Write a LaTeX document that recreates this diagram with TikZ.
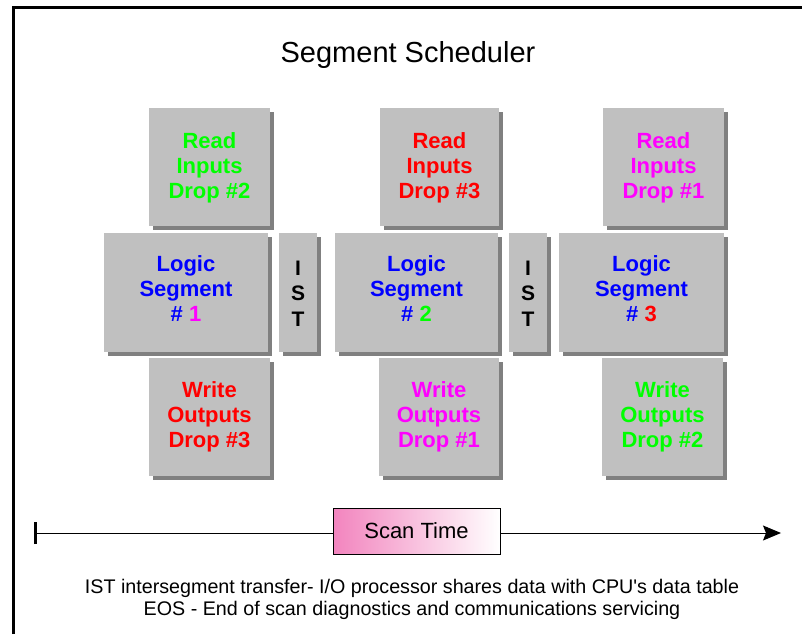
\documentclass[tikz,border=0pt]{standalone}
\usepackage{fontspec}
\setmainfont{Liberation Sans}[Ligatures=TeXOff]
\usetikzlibrary{shadows,arrows.meta}
\definecolor{boxgray}{RGB}{192,192,192}
\definecolor{shadowgray}{RGB}{128,128,128}
\definecolor{cgreen}{RGB}{0,255,0}
\definecolor{cred}{RGB}{255,0,0}
\definecolor{cmag}{RGB}{255,0,255}
\definecolor{cblue}{RGB}{0,0,255}
\definecolor{pinkl}{RGB}{242,132,190}
\tikzset{
  box/.style={fill=boxgray, draw=none, inner sep=0pt,
    drop shadow={shadow xshift=4pt, shadow yshift=-4pt, fill=shadowgray, opacity=1}},
  rbox/.style={box, minimum width=121pt, minimum height=118pt},
  lbox/.style={box, minimum width=164pt, minimum height=119pt},
  ibox/.style={box, minimum width=38pt, minimum height=119pt},
  lbl/.style={align=center, font=\bfseries\fontsize{22}{25}\selectfont},
  istlbl/.style={align=center, font=\bfseries\fontsize{21}{25.5}\selectfont},
}
\begin{document}
\begin{tikzpicture}[x=1pt,y=-1pt]
\useasboundingbox (0,0) rectangle (802,634);
% frame
\draw[line width=3pt] (13.5,634) -- (13.5,7.5) -- (802,7.5);
% title
\node[font=\fontsize{29}{34}\selectfont] (title) at (408,55) {Segment Scheduler};
% column 1
\node[rbox, label={[lbl, text=cgreen, yshift=-1pt]center:{Read\\Inputs\\Drop \#2}}] (r1) at (209.5,167) {};
\node[lbox, label={[lbl, text=cblue, yshift=4pt]center:{Logic\\Segment\\\# \textcolor{cmag}{1}}}] (l1) at (186,292.5) {};
\node[ibox, label={[istlbl, text=black, yshift=-1pt]center:{I\\S\\T}}] (i1) at (298,292.5) {};
\node[rbox, label={[lbl, text=cred, yshift=0pt]center:{Write\\Outputs\\Drop \#3}}] (w1) at (209.5,417) {};
% column 2
\node[rbox, minimum width=119pt, label={[lbl, text=cred, yshift=-1pt]center:{Read\\Inputs\\Drop \#3}}] (r2) at (439.5,167) {};
\node[lbox, minimum width=163pt, label={[lbl, text=cblue, yshift=4pt]center:{Logic\\Segment\\\# \textcolor{cgreen}{2}}}] (l2) at (416.5,292.5) {};
\node[ibox, label={[istlbl, text=black, yshift=-1pt]center:{I\\S\\T}}] (i2) at (528,292.5) {};
\node[rbox, minimum width=120pt, label={[lbl, text=cmag, yshift=0pt]center:{Write\\Outputs\\Drop \#1}}] (w2) at (439,417) {};
% column 3
\node[rbox, label={[lbl, text=cmag, yshift=-1pt]center:{Read\\Inputs\\Drop \#1}}] (r3) at (663.5,167) {};
\node[lbox, minimum width=165pt, label={[lbl, text=cblue, yshift=4pt]center:{Logic\\Segment\\\# \textcolor{cred}{3}}}] (l3) at (641.5,292.5) {};
\node[rbox, label={[lbl, text=cgreen, yshift=0pt]center:{Write\\Outputs\\Drop \#2}}] (w3) at (662.5,417) {};
% timeline
\coordinate (tstart) at (35,533);
\coordinate (tend) at (781,533);
\node[draw=black, line width=0.8pt, left color=pinkl, right color=white, minimum width=167pt, minimum height=46pt, inner sep=0pt, font=\fontsize{22}{26}\selectfont] (scan) at (416.5,531) {\raisebox{-2pt}{Scan Time}};
\draw[line width=3pt] ([yshift=-11pt]tstart) -- ([yshift=11pt]tstart);
\draw[line width=1pt] (tstart) -- (scan.west |- tstart);
\draw[line width=1pt, -{Stealth[length=18pt, width=15pt, inset=3pt]}] (scan.east |- tend) -- (tend);
% notes
\node[align=center, font=\fontsize{19.7}{22}\selectfont] (notes) at (412,599) {IST intersegment transfer- I/O processor shares data with CPU's data table\\EOS - End of scan diagnostics and communications servicing};
\end{tikzpicture}
\end{document}
